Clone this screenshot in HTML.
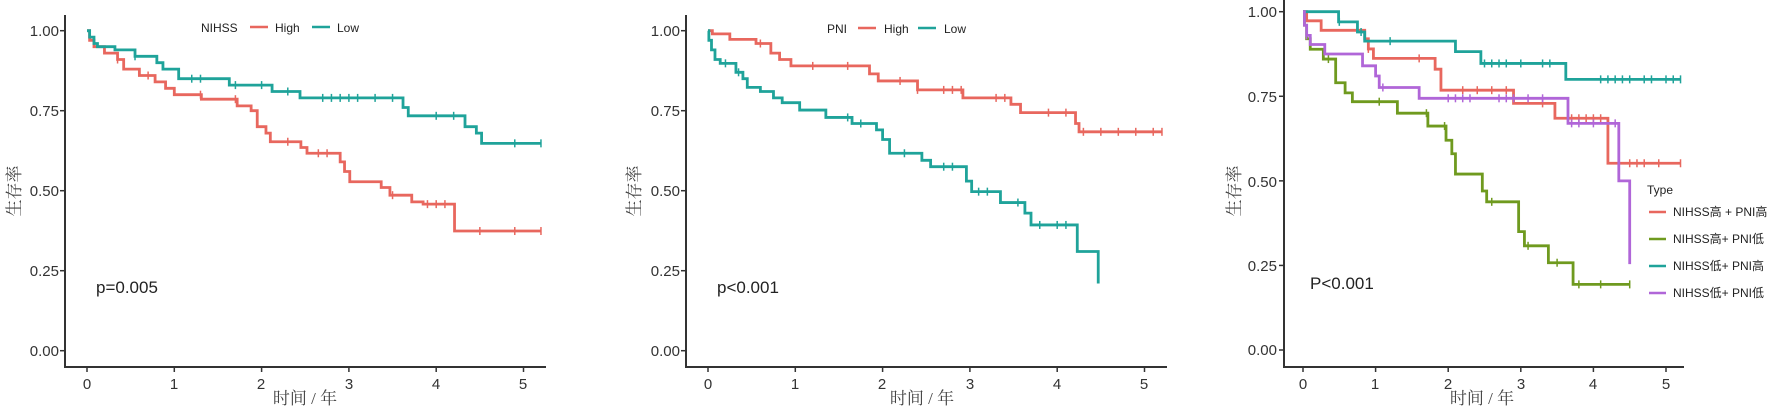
<!DOCTYPE html>
<html><head><meta charset="utf-8">
<style>
html,body{margin:0;padding:0;background:#fff;}
svg{display:block;}
text{font-family:"Liberation Sans","Noto Sans CJK SC",sans-serif;fill:#222;}
.tk{font-size:15px;text-anchor:end;fill:#333;}
.tx{font-size:15px;text-anchor:middle;fill:#333;}
.cn{font-family:"Liberation Serif","Noto Serif CJK SC",serif;fill:#444;font-size:17px;}
.lg{font-size:12px;}
.pv{font-size:17px;}
.ax{stroke:#333;stroke-width:2;fill:none;}
</style></head><body>
<svg id="s" width="1772" height="415" viewBox="0 0 1772 415">
<!-- Panel 1 -->
<g>
<path class="ax" d="M65,15 V367 H546"/>
<text class="tk" x="59" y="36">1.00</text>
<text class="tk" x="59" y="116">0.75</text>
<text class="tk" x="59" y="196">0.50</text>
<text class="tk" x="59" y="276">0.25</text>
<text class="tk" x="59" y="356">0.00</text>
<text class="tx" x="87" y="389">0</text>
<text class="tx" x="174" y="389">1</text>
<text class="tx" x="261" y="389">2</text>
<text class="tx" x="349" y="389">3</text>
<text class="tx" x="436" y="389">4</text>
<text class="tx" x="523" y="389">5</text>
<text class="cn" x="305" y="404" text-anchor="middle">时间 / 年</text>
<text class="cn" transform="translate(20,191) rotate(-90)" text-anchor="middle">生存率</text>
<text class="pv" x="96" y="293">p=0.005</text>
<text class="lg" x="201" y="32">NIHSS</text>
<line x1="250" y1="27" x2="268" y2="27" stroke="#e8675e" stroke-width="2.5"/>
<text class="lg" x="275" y="32">High</text>
<line x1="312" y1="27" x2="330" y2="27" stroke="#1fa39a" stroke-width="2.5"/>
<text class="lg" x="337" y="32">Low</text>
</g>
<!-- Panel 2 -->
<g>
<path class="ax" d="M686,15 V367 H1167"/>
<text class="tk" x="680" y="36">1.00</text>
<text class="tk" x="680" y="116">0.75</text>
<text class="tk" x="680" y="196">0.50</text>
<text class="tk" x="680" y="276">0.25</text>
<text class="tk" x="680" y="356">0.00</text>
<text class="tx" x="708" y="389">0</text>
<text class="tx" x="795" y="389">1</text>
<text class="tx" x="882" y="389">2</text>
<text class="tx" x="970" y="389">3</text>
<text class="tx" x="1057" y="389">4</text>
<text class="tx" x="1144" y="389">5</text>
<text class="cn" x="922" y="404" text-anchor="middle">时间 / 年</text>
<text class="cn" transform="translate(640,191) rotate(-90)" text-anchor="middle">生存率</text>
<text class="pv" x="717" y="293">p&lt;0.001</text>
<text class="lg" x="827" y="33">PNI</text>
<line x1="858" y1="28" x2="876" y2="28" stroke="#e8675e" stroke-width="2.5"/>
<text class="lg" x="884" y="33">High</text>
<line x1="918" y1="28" x2="936" y2="28" stroke="#1fa39a" stroke-width="2.5"/>
<text class="lg" x="944" y="33">Low</text>
</g>
<!-- Panel 3 -->
<g>
<path class="ax" d="M1284,0 V367 H1684"/>
<text class="tk" x="1277" y="17">1.00</text>
<text class="tk" x="1277" y="102">0.75</text>
<text class="tk" x="1277" y="187">0.50</text>
<text class="tk" x="1277" y="271">0.25</text>
<text class="tk" x="1277" y="355">0.00</text>
<text class="tx" x="1303" y="389">0</text>
<text class="tx" x="1375" y="389">1</text>
<text class="tx" x="1448" y="389">2</text>
<text class="tx" x="1521" y="389">3</text>
<text class="tx" x="1593" y="389">4</text>
<text class="tx" x="1666" y="389">5</text>
<text class="cn" x="1482" y="404" text-anchor="middle">时间 / 年</text>
<text class="cn" transform="translate(1240,191) rotate(-90)" text-anchor="middle">生存率</text>
<text class="pv" x="1310" y="289">P&lt;0.001</text>
<text class="lg" x="1647" y="194" font-size="11">Type</text>
<line x1="1649" y1="212" x2="1666" y2="212" stroke="#e8675e" stroke-width="2.5"/>
<text class="lg" x="1673" y="216" font-size="11">NIHSS高 + PNI高</text>
<line x1="1649" y1="239" x2="1666" y2="239" stroke="#6f9a1f" stroke-width="2.5"/>
<text class="lg" x="1673" y="243" font-size="11">NIHSS高+ PNI低</text>
<line x1="1649" y1="266" x2="1666" y2="266" stroke="#1fa39a" stroke-width="2.5"/>
<text class="lg" x="1673" y="270" font-size="11">NIHSS低+ PNI高</text>
<line x1="1649" y1="293" x2="1666" y2="293" stroke="#b066d8" stroke-width="2.5"/>
<text class="lg" x="1673" y="297" font-size="11">NIHSS低+ PNI低</text>
</g>
<g id="ticks" stroke="#333" stroke-width="1.5"></g>
<g id="curves"></g>
</svg>
<script>
var RED="#e8675e",TEAL="#1fa39a",GREEN="#6f9a1f",PUR="#b066d8";
var P1={x0:87,sx:87.3,y0:350.7,sy:320,ax:65},P2={x0:708,sx:87.3,y0:350.7,sy:320,ax:686},P3={x0:1303,sx:72.6,y0:350,sy:338.3,ax:1284};
var ns="http://www.w3.org/2000/svg";
var tg=document.getElementById("ticks");
function ln(g,x1,y1,x2,y2){var l=document.createElementNS(ns,"line");l.setAttribute("x1",x1);l.setAttribute("y1",y1);l.setAttribute("x2",x2);l.setAttribute("y2",y2);g.appendChild(l);return l;}
[P1,P2,P3].forEach(function(P){
 for(var i=0;i<=5;i++){var x=P.x0+i*P.sx;ln(tg,x,367,x,372);}
 for(var j=0;j<=4;j++){var y=P.y0-j*0.25*P.sy;ln(tg,P.ax-5,y,P.ax,y);}
});
var curves=[
[P1,RED,[[0.03,0.97],[0.08,0.95],[0.2,0.93],[0.35,0.91],[0.42,0.88],[0.6,0.86],[0.78,0.84],[0.9,0.82],[1.0,0.80],[1.31,0.786],[1.72,0.765],[1.88,0.75],[1.95,0.70],[2.05,0.68],[2.1,0.653],[2.45,0.635],[2.52,0.617],[2.9,0.59],[2.95,0.56],[3.01,0.528],[3.37,0.51],[3.47,0.486],[3.72,0.465],[3.85,0.458],[4.21,0.374]],5.2,[0.35,0.7,1.3,1.7,2.3,2.65,2.75,3.5,3.9,4.0,4.1,4.5,4.9,5.2]],
[P1,TEAL,[[0.03,0.98],[0.08,0.96],[0.12,0.95],[0.32,0.94],[0.55,0.92],[0.8,0.90],[0.87,0.88],[1.05,0.85],[1.63,0.83],[2.12,0.81],[2.44,0.79],[3.62,0.76],[3.68,0.734],[4.33,0.70],[4.46,0.68],[4.52,0.648]],5.2,[0.55,1.2,1.3,1.7,2.0,2.3,2.7,2.8,2.9,3.0,3.1,3.3,3.5,4.0,4.2,4.9,5.2]],
[P2,RED,[[0.05,0.99],[0.25,0.973],[0.55,0.96],[0.72,0.93],[0.82,0.91],[0.95,0.89],[1.85,0.865],[1.95,0.843],[2.4,0.815],[2.92,0.79],[3.47,0.77],[3.58,0.744],[4.21,0.71],[4.25,0.684]],5.2,[0.6,1.2,1.6,2.2,2.4,2.7,2.8,2.9,3.3,3.4,3.9,4.1,4.3,4.5,4.7,4.9,5.1,5.2]],
[P2,TEAL,[[0.01,0.97],[0.04,0.94],[0.08,0.91],[0.14,0.898],[0.32,0.87],[0.4,0.85],[0.45,0.823],[0.6,0.81],[0.75,0.79],[0.85,0.775],[1.05,0.752],[1.35,0.729],[1.65,0.71],[1.93,0.69],[2.0,0.66],[2.08,0.617],[2.45,0.595],[2.55,0.575],[2.96,0.53],[3.02,0.497],[3.35,0.463],[3.63,0.43],[3.7,0.393],[4.23,0.31],[4.47,0.21]],4.47,[0.2,0.35,1.6,1.75,2.25,2.7,2.8,3.1,3.2,3.55,3.8,4.0,4.1]],
[P3,RED,[[0.05,0.973],[0.25,0.945],[0.85,0.92],[0.9,0.89],[0.97,0.862],[1.82,0.83],[1.9,0.768],[2.9,0.729],[3.47,0.685],[4.2,0.552]],5.2,[0.9,1.6,2.2,2.4,2.6,2.8,3.3,3.7,3.8,3.9,4.0,4.1,4.5,4.6,4.7,4.9,5.2]],
[P3,GREEN,[[0.02,0.96],[0.05,0.92],[0.1,0.889],[0.28,0.86],[0.45,0.79],[0.58,0.76],[0.68,0.734],[1.3,0.70],[1.72,0.662],[1.97,0.62],[2.05,0.58],[2.1,0.52],[2.47,0.47],[2.53,0.438],[2.97,0.35],[3.05,0.308],[3.38,0.258],[3.72,0.194]],4.5,[0.35,1.05,1.7,1.95,2.6,3.1,3.5,3.8,4.1,4.5]],
[P3,TEAL,[[0.49,0.97],[0.75,0.94],[0.85,0.913],[2.1,0.882],[2.45,0.847],[3.62,0.80]],5.2,[0.5,0.8,1.2,2.5,2.6,2.7,2.8,3.0,3.3,3.4,4.1,4.2,4.3,4.4,4.5,4.7,4.8,5.0,5.1,5.2]],
[P3,PUR,[[0.02,0.96],[0.05,0.93],[0.1,0.903],[0.3,0.875],[0.82,0.84],[1.0,0.81],[1.05,0.776],[1.6,0.744],[3.65,0.67],[4.35,0.50],[4.5,0.254]],4.5,[0.05,1.1,2.0,2.1,2.2,2.3,2.7,2.8,2.9,3.1,3.3,3.7,3.8,4.0,4.3]]
];
var g=document.getElementById("curves");
curves.forEach(function(c){
 var P=c[0],X=function(t){return P.x0+t*P.sx},Y=function(s){return P.y0-s*P.sy};
 var d="M"+X(0)+","+Y(1);
 c[2].forEach(function(p){d+=" H"+X(p[0])+" V"+Y(p[1]);});
 d+=" H"+X(c[3]);
 var pa=document.createElementNS(ns,"path");
 pa.setAttribute("d",d);pa.setAttribute("fill","none");pa.setAttribute("stroke",c[1]);pa.setAttribute("stroke-width","2.8");
 g.appendChild(pa);
 c[4].forEach(function(t){
  var lv=1;c[2].forEach(function(p){if(p[0]<=t)lv=p[1];});
  var l=ln(g,X(t),Y(lv)-4,X(t),Y(lv)+4);
  l.setAttribute("stroke",c[1]);l.setAttribute("stroke-width","1.5");
 });
});
</script>
</body></html>
